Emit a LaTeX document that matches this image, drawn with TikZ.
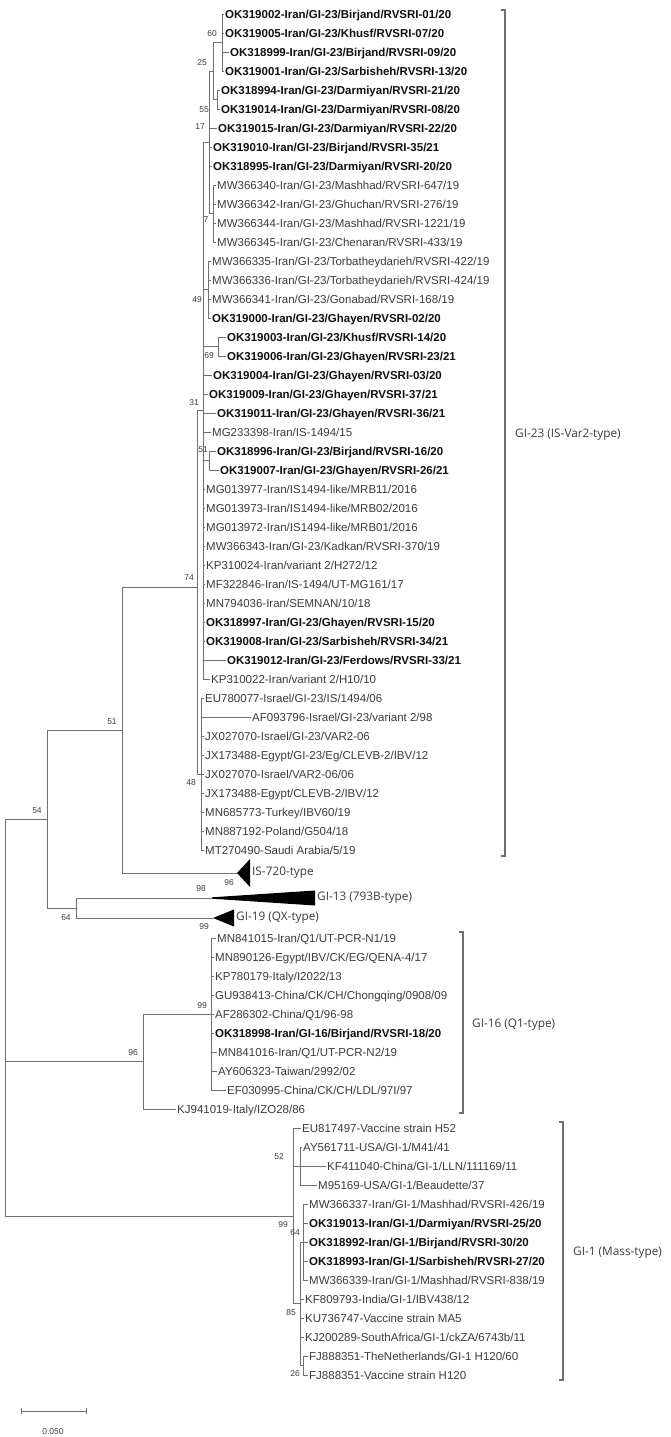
\documentclass[tikz,border=0pt]{standalone}
\usepackage{fontspec}
\setmainfont{Liberation Sans}
\newfontfamily\cladefont{Open Sans}
\definecolor{linec}{HTML}{707070}
\definecolor{txtn}{HTML}{3C3C3C}
\definecolor{txtb}{HTML}{111111}
\begin{document}
\begin{tikzpicture}[x=1pt,y=-1pt,
  leafn/.style={anchor=west,inner xsep=1pt,inner ysep=0pt,text height=8.3pt,text depth=0pt,font=\fontsize{11.5}{12}\selectfont,text=txtn},
  leafb/.style={leafn,font=\fontsize{11.5}{12}\selectfont\bfseries,text=txtb},
  br/.style={draw=linec,line width=0.9pt},
  bs/.style={font=\fontsize{8.5}{9}\selectfont,text=txtn,inner sep=0pt},
  clade/.style={anchor=west,font=\cladefont\fontsize{11.8}{12}\selectfont,text=txtn,inner sep=0pt},
  brk/.style={draw=linec,line width=1.1pt}]
\fill[white] (0,0) rectangle (671,1437);
\useasboundingbox (0,0) rectangle (671,1437);

% ---------------- GI-23 leaves ----------------
\node[leafb] (L0) at (224,14) {OK319002-Iran/GI-23/Birjand/RVSRI-01/20};
\node[leafb] (L1) at (224,33) {OK319005-Iran/GI-23/Khusf/RVSRI-07/20};
\node[leafb] (L2) at (229,52) {OK318999-Iran/GI-23/Birjand/RVSRI-09/20};
\node[leafb] (L3) at (224,71) {OK319001-Iran/GI-23/Sarbisheh/RVSRI-13/20};
\node[leafb] (L4) at (220,90) {OK318994-Iran/GI-23/Darmiyan/RVSRI-21/20};
\node[leafb] (L5) at (220,109) {OK319014-Iran/GI-23/Darmiyan/RVSRI-08/20};
\node[leafb] (L6) at (217,128) {OK319015-Iran/GI-23/Darmiyan/RVSRI-22/20};
\node[leafb] (L7) at (212,147) {OK319010-Iran/GI-23/Birjand/RVSRI-35/21};
\node[leafb] (L8) at (212,166) {OK318995-Iran/GI-23/Darmiyan/RVSRI-20/20};
\node[leafn] (L9) at (216,185) {MW366340-Iran/GI-23/Mashhad/RVSRI-647/19};
\node[leafn] (L10) at (216,204) {MW366342-Iran/GI-23/Ghuchan/RVSRI-276/19};
\node[leafn] (L11) at (216,223) {MW366344-Iran/GI-23/Mashhad/RVSRI-1221/19};
\node[leafn] (L12) at (216,242) {MW366345-Iran/GI-23/Chenaran/RVSRI-433/19};
\node[leafn] (L13) at (211,261) {MW366335-Iran/GI-23/Torbatheydarieh/RVSRI-422/19};
\node[leafn] (L14) at (211,280) {MW366336-Iran/GI-23/Torbatheydarieh/RVSRI-424/19};
\node[leafn] (L15) at (211,299) {MW366341-Iran/GI-23/Gonabad/RVSRI-168/19};
\node[leafb] (L16) at (211,318) {OK319000-Iran/GI-23/Ghayen/RVSRI-02/20};
\node[leafb] (L17) at (226,337) {OK319003-Iran/GI-23/Khusf/RVSRI-14/20};
\node[leafb] (L18) at (226,356) {OK319006-Iran/GI-23/Ghayen/RVSRI-23/21};
\node[leafb] (L19) at (212,375) {OK319004-Iran/GI-23/Ghayen/RVSRI-03/20};
\node[leafb] (L20) at (208,394) {OK319009-Iran/GI-23/Ghayen/RVSRI-37/21};
\node[leafb] (L21) at (216,413) {OK319011-Iran/GI-23/Ghayen/RVSRI-36/21};
\node[leafn] (L22) at (211,432) {MG233398-Iran/IS-1494/15};
\node[leafb] (L23) at (216,451) {OK318996-Iran/GI-23/Birjand/RVSRI-16/20};
\node[leafb] (L24) at (219,470) {OK319007-Iran/GI-23/Ghayen/RVSRI-26/21};
\node[leafn] (L25) at (205,489) {MG013977-Iran/IS1494-like/MRB11/2016};
\node[leafn] (L26) at (205,508) {MG013973-Iran/IS1494-like/MRB02/2016};
\node[leafn] (L27) at (205,527) {MG013972-Iran/IS1494-like/MRB01/2016};
\node[leafn] (L28) at (205,546) {MW366343-Iran/GI-23/Kadkan/RVSRI-370/19};
\node[leafn] (L29) at (205,565) {KP310024-Iran/variant 2/H272/12};
\node[leafn] (L30) at (205,584) {MF322846-Iran/IS-1494/UT-MG161/17};
\node[leafn] (L31) at (205,603) {MN794036-Iran/SEMNAN/10/18};
\node[leafb] (L32) at (205,622) {OK318997-Iran/GI-23/Ghayen/RVSRI-15/20};
\node[leafb] (L33) at (205,641) {OK319008-Iran/GI-23/Sarbisheh/RVSRI-34/21};
\node[leafb] (L34) at (226,660) {OK319012-Iran/GI-23/Ferdows/RVSRI-33/21};
\node[leafn] (L35) at (210,679) {KP310022-Iran/variant 2/H10/10};
\node[leafn] (L36) at (204,698) {EU780077-Israel/GI-23/IS/1494/06};
\node[leafn] (L37) at (251,717) {AF093796-Israel/GI-23/variant 2/98};
\node[leafn] (L38) at (204,736) {JX027070-Israel/GI-23/VAR2-06};
\node[leafn] (L39) at (204,755) {JX173488-Egypt/GI-23/Eg/CLEVB-2/IBV/12};
\node[leafn] (L40) at (204,774) {JX027070-Israel/VAR2-06/06};
\node[leafn] (L41) at (204,793) {JX173488-Egypt/CLEVB-2/IBV/12};
\node[leafn] (L42) at (204,812) {MN685773-Turkey/IBV60/19};
\node[leafn] (L43) at (204,831) {MN887192-Poland/G504/18};
\node[leafn] (L44) at (204,850) {MT270490-Saudi Arabia/5/19};

% internal nodes GI-23
\coordinate (n60) at (222,42.5);
\coordinate (n55) at (217,99.5);
\coordinate (n25) at (213,71);
\coordinate (n7) at (213,213.5);
\coordinate (n17) at (209,142);
\coordinate (nB) at (208,289.5);
\coordinate (n69) at (218,346.5);
\coordinate (n51s) at (209,460.5);
\coordinate (n31) at (203,410.5);
\coordinate (n48) at (201,774);
\coordinate (n74) at (197,587);
\coordinate (n51) at (122,730);
\coordinate (n54) at (47,819);
\coordinate (n64) at (76,908);
\coordinate (root) at (5,819);
\coordinate (tIS) at (237,873);
\coordinate (tG13) at (212,898);
\coordinate (tG19) at (213,918);

\foreach \c in {L0,L1,L2,L3} \draw[br] (n60) |- (\c.west);
\foreach \c in {L4,L5} \draw[br] (n55) |- (\c.west);
\draw[br] (n25) |- (n60);
\draw[br] (n25) |- (n55);
\foreach \c in {L9,L10,L11,L12} \draw[br] (n7) |- (\c.west);
\draw[br] (n17) |- (n25);
\foreach \c in {L6,L7,L8} \draw[br] (n17) |- (\c.west);
\draw[br] (n17) |- (n7);
\foreach \c in {L13,L14,L15,L16} \draw[br] (nB) |- (\c.west);
\foreach \c in {L17,L18} \draw[br] (n69) |- (\c.west);
\foreach \c in {L23,L24} \draw[br] (n51s) |- (\c.west);
\draw[br] (n31) |- (n17);
\draw[br] (n31) |- (nB);
\draw[br] (n31) |- (n69);
\draw[br] (n31) |- (n51s);
\foreach \c in {L19,L20,L21,L22,L25,L26,L27,L28,L29,L30,L31,L32,L33,L34,L35} \draw[br] (n31) |- (\c.west);
\foreach \c in {L36,L37,L38,L39,L40,L41,L42,L43,L44} \draw[br] (n48) |- (\c.west);
\draw[br] (n74) |- (n31);
\draw[br] (n74) |- (n48);
\draw[br] (n51) |- (n74);
\draw[br] (n51) |- (tIS);
\draw[br] (n54) |- (n51);
\draw[br] (n54) |- (n64);
\draw[br] (n64) |- (tG13);
\draw[br] (n64) |- (tG19);

% collapsed clades
\fill[black] (tIS) -- (250,859) -- (250,887) -- cycle;
\fill[black] (212,897.3) -- (315,890.5) -- (315,905.5) -- (212,898.7) -- cycle;
\fill[black] (tG19) -- (234,909.5) -- (234,926.5) -- cycle;
\node[clade] (cIS) at (252,873) {IS-720-type};
\node[clade] (c13) at (317,898) {GI-13 (793B-type)};
\node[clade] (c19) at (236,918) {GI-19 (QX-type)};

% ---------------- GI-16 ----------------
\node[leafn] (Q0) at (216,938) {MN841015-Iran/Q1/UT-PCR-N1/19};
\node[leafn] (Q1) at (214,957) {MN890126-Egypt/IBV/CK/EG/QENA-4/17};
\node[leafn] (Q2) at (214,976) {KP780179-Italy/I2022/13};
\node[leafn] (Q3) at (214,995) {GU938413-China/CK/CH/Chongqing/0908/09};
\node[leafn] (Q4) at (214,1014) {AF286302-China/Q1/96-98};
\node[leafb] (Q5) at (214,1033) {OK318998-Iran/GI-16/Birjand/RVSRI-18/20};
\node[leafn] (Q6) at (217,1052) {MN841016-Iran/Q1/UT-PCR-N2/19};
\node[leafn] (Q7) at (217,1071) {AY606323-Taiwan/2992/02};
\node[leafn] (Q8) at (226,1090) {EF030995-China/CK/CH/LDL/97I/97};
\node[leafn] (Q9) at (176,1109) {KJ941019-Italy/IZO28/86};
\coordinate (n99a) at (211,1014);
\coordinate (n96) at (143,1061.5);
\foreach \c in {Q0,Q1,Q2,Q3,Q4,Q5,Q6,Q7,Q8} \draw[br] (n99a) |- (\c.west);
\draw[br] (n96) |- (n99a);
\draw[br] (n96) |- (Q9.west);

% ---------------- GI-1 ----------------
\node[leafn] (M0) at (301,1128) {EU817497-Vaccine strain H52};
\node[leafn] (M1) at (302,1147) {AY561711-USA/GI-1/M41/41};
\node[leafn] (M2) at (326,1166) {KF411040-China/GI-1/LLN/111169/11};
\node[leafn] (M3) at (317,1185) {M95169-USA/GI-1/Beaudette/37};
\node[leafn] (M4) at (308,1204) {MW366337-Iran/GI-1/Mashhad/RVSRI-426/19};
\node[leafb] (M5) at (308,1223) {OK319013-Iran/GI-1/Darmiyan/RVSRI-25/20};
\node[leafb] (M6) at (308,1242) {OK318992-Iran/GI-1/Birjand/RVSRI-30/20};
\node[leafb] (M7) at (308,1261) {OK318993-Iran/GI-1/Sarbisheh/RVSRI-27/20};
\node[leafn] (M8) at (308,1280) {MW366339-Iran/GI-1/Mashhad/RVSRI-838/19};
\node[leafn] (M9) at (304,1299) {KF809793-India/GI-1/IBV438/12};
\node[leafn] (M10) at (304,1318) {KU736747-Vaccine strain MA5};
\node[leafn] (M11) at (304,1337) {KJ200289-SouthAfrica/GI-1/ckZA/6743b/11};
\node[leafn] (M12) at (308,1356) {FJ888351-TheNetherlands/GI-1 H120/60};
\node[leafn] (M13) at (308,1375) {FJ888351-Vaccine strain H120};
\coordinate (n52) at (300,1166);
\coordinate (n64b) at (303,1242);
\coordinate (n26) at (303,1365.5);
\coordinate (n85) at (300,1303.75);
\coordinate (n99b) at (293,1216);
\foreach \c in {M1,M2,M3} \draw[br] (n52) |- (\c.west);
\foreach \c in {M4,M5,M6,M7,M8} \draw[br] (n64b) |- (\c.west);
\foreach \c in {M12,M13} \draw[br] (n26) |- (\c.west);
\draw[br] (n85) |- (n64b);
\foreach \c in {M9,M10,M11} \draw[br] (n85) |- (\c.west);
\draw[br] (n85) |- (n26);
\draw[br] (n99b) |- (M0.west);
\draw[br] (n99b) |- (n52);
\draw[br] (n99b) |- (n85);

% root
\draw[br] (root) |- (n54);
\draw[br] (root) |- (n96);
\draw[br] (root) |- (n99b);

% ---------------- bootstrap values ----------------
\node[bs] (b60) at (212,34) {60};
\node[bs] (b25) at (202,63) {25};
\node[bs] (b55) at (204,110) {55};
\node[bs] (b17) at (200,127) {17};
\node[bs] (b7) at (206,220) {7};
\node[bs] (b49) at (197,300) {49};
\node[bs] (b69) at (209,356) {69};
\node[bs] (b31) at (194,403) {31};
\node[bs] (b51s) at (203,450) {51};
\node[bs] (b74) at (189,578) {74};
\node[bs] (b48) at (191,783) {48};
\node[bs] (b96a) at (229,883) {96};
\node[bs] (b51) at (112,722) {51};
\node[bs] (b54) at (37,811) {54};
\node[bs] (b98) at (201,889) {98};
\node[bs] (b64) at (66,918) {64};
\node[bs] (b99a) at (204,927) {99};
\node[bs] (b99b) at (202,1006) {99};
\node[bs] (b96b) at (133,1053) {96};
\node[bs] (b52) at (279,1157) {52};
\node[bs] (b99c) at (283,1225) {99};
\node[bs] (b64b) at (295,1233) {64};
\node[bs] (b85) at (291,1313) {85};
\node[bs] (b26) at (295,1374) {26};

% ---------------- clade brackets ----------------
\draw[brk] (501,10) -- (505,10) -- (505,856) -- (501,856);
\node[clade] (k23) at (515,435) {GI-23 (IS-Var2-type)};
\draw[brk] (459,932) -- (463,932) -- (463,1113) -- (459,1113);
\node[clade] (k16) at (472,1025) {GI-16 (Q1-type)};
\draw[brk] (559,1122) -- (563,1122) -- (563,1380) -- (559,1380);
\node[clade] (k1) at (573,1253) {GI-1 (Mass-type)};

% ---------------- scale bar ----------------
\coordinate (s1) at (21,1411);
\coordinate (s2) at (86,1411);
\draw[br] (s1) -- (s2);
\draw[br] ([yshift=3pt]s1) -- ([yshift=-3pt]s1);
\draw[br] ([yshift=3pt]s2) -- ([yshift=-3pt]s2);
\node[bs] (sl) at (53,1432) {0.050};
\end{tikzpicture}
\end{document}
